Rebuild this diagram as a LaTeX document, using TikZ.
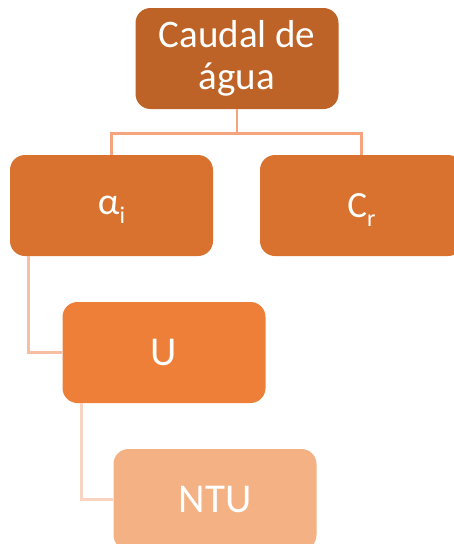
\documentclass[tikz,border=0pt]{standalone}
\usepackage{fontspec}
\setmainfont{Carlito}
\usetikzlibrary{calc}
\definecolor{boxA}{HTML}{BE6327}
\definecolor{boxB}{HTML}{D9722E}
\definecolor{boxC}{HTML}{ED7F39}
\definecolor{boxD}{HTML}{F4B183}
\definecolor{lineA}{HTML}{F5A47D}
\definecolor{lineB}{HTML}{F8BEA2}
\definecolor{lineC}{HTML}{FAD4C3}
\tikzset{
  x=1pt, y=-1pt,
  card/.style={rectangle, rounded corners=15pt, minimum width=203pt,
    minimum height=101pt, inner sep=0pt, text=white, align=center,
    font=\fontsize{39}{42}\selectfont},
  link/.style={line width=2.8pt}
}
\newcommand{\sbs}[1]{{\fontsize{24}{24}\selectfont\raisebox{-9pt}[0pt][0pt]{#1}}}
\begin{document}
\begin{tikzpicture}
\useasboundingbox (0,0) rectangle (454,544);
\node[card, fill=boxA] (top) at (237,58.5) {Caudal de\\água};
\node[card, fill=boxB, font=\fontsize{38}{40}\selectfont] (alpha) at (111.5,205.5) {α\sbs{i}};
\node[card, fill=boxB, font=\fontsize{37}{40}\selectfont] (cr) at (361.5,205.5) {C\sbs{r}};
\node[card, fill=boxC, font=\fontsize{41}{44}\selectfont] (u) at (164,352.5) {U};
\node[card, fill=boxD, font=\fontsize{41}{44}\selectfont] (ntu) at (215,499.5) {NTU};
% tree connectors
\coordinate (fork) at ($(top.south)+(0,24)$);
\draw[link, lineA] (top.south) -- (fork);
\draw[link, lineA] (fork) -| (alpha.north);
\draw[link, lineA] (fork) -| (cr.north);
\draw[link, lineB] ($(alpha.south west)+(19,0)$) |- (u.west);
\draw[link, lineC] ($(u.south west)+(19,0)$) |- (ntu.west);
\end{tikzpicture}
\end{document}
